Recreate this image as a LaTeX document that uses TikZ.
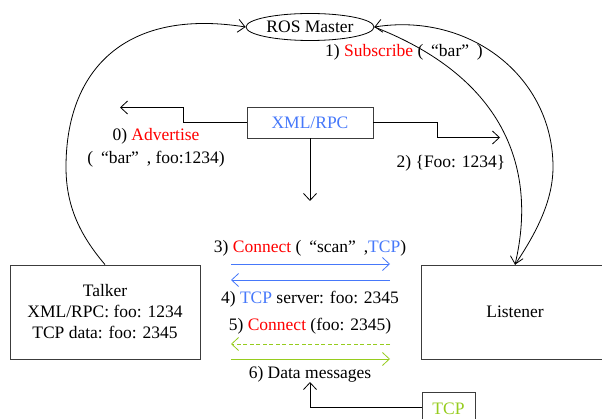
\documentclass[tikz,border=0pt]{standalone}
\usepackage{fontspec}
\setmainfont{Liberation Serif}
\usetikzlibrary{arrows.meta,shapes.geometric}
\definecolor{myblue}{RGB}{70,120,250}
\definecolor{mygreen}{RGB}{150,204,30}
\definecolor{boxgray}{RGB}{60,60,60}
\newcommand\fwq[1]{\hspace{0.45em}“#1”\hspace{0.45em}}
\begin{document}
\begin{tikzpicture}[x=1pt,y=-1pt,
  every node/.style={font=\fontsize{17.5}{21}\selectfont, inner sep=0pt},
  arr/.style={-{Straight Barb[length=7pt,width=13pt]}, line width=0.8pt},
  box/.style={draw=boxgray, line width=0.8pt, rectangle, align=center},
  lbl/.style={align=center}]
\useasboundingbox (0,0) rectangle (602,419);
% nodes
\node[draw, ellipse, line width=0.8pt, minimum width=128pt, minimum height=27pt] (master) at (310,27) {ROS Master};
\node[box, minimum width=126pt, minimum height=31pt, text=myblue] (xml) at (310,122.5) {XML/RPC};
\node[box, minimum width=190pt, minimum height=94pt] (talker) at (105,312) {Talker\\XML/RPC: foo: 1234\\TCP data: foo: 2345};
\node[box, minimum width=188pt, minimum height=94pt] (listener) at (515,312) {Listener};
\node[box, minimum width=53pt, minimum height=34pt, text=mygreen] (tcp) at (448.5,409) {TCP};
% labels
\node[lbl] (l1) at (404,52) {1) \textcolor{red}{Subscribe} (\fwq{bar})};
\node[lbl] (l0a) at (156,136) {0) \textcolor{red}{Advertise}};
\node[lbl] (l0b) at (156,159) {(\fwq{bar}, foo:1234)};
\node[lbl] (l2) at (451,163) {2) \{Foo: 1234\}};
\node[lbl] (l3) at (310,248) {3) \textcolor{red}{Connect} (\fwq{scan},\textcolor{myblue}{TCP})};
\node[lbl] (l4) at (310,299) {4) \textcolor{myblue}{TCP} server: foo: 2345};
\node[lbl] (l5) at (310,326) {5) \textcolor{red}{Connect} (foo: 2345)};
\node[lbl] (l6) at (310,374) {6) Data messages};
% coordinates for free ends
\coordinate (advEnd) at (120,107.5);
\coordinate (fooEnd) at (500,137.5);
\coordinate (downEnd) at (310,201);
\coordinate (c3a) at (231,264);
\coordinate (c3b) at (390,264);
\coordinate (c4a) at (390,280);
\coordinate (c4b) at (231,280);
\coordinate (c5a) at (390,344);
\coordinate (c5b) at (231,344);
\coordinate (c6a) at (231,359);
\coordinate (c6b) at (390,359);
\coordinate (tcpEnd) at (310,382);
% XML/RPC connectors
\draw[arr] (xml.west) -- (183,122.5) -- (183,107.5) -- (advEnd);
\draw[arr] (xml.east) -- (437,122.5) -- (437,137.5) -- (fooEnd);
\draw[arr] (xml.south) -- (downEnd);
% big curves
\draw[arr] (talker.north) .. controls (79,234) and (66,205) .. (66,167)
  .. controls (66,70) and (125,8) .. (master.west);
\draw[arr] (master.east) .. controls (515,82) and (535,180) .. (listener.north);
\draw[arr] (listener.north) .. controls (537,232) and (553,200) .. (553,167)
  .. controls (553,77) and (470,12) .. (master.east);
% middle arrows
\draw[arr, myblue] (c3a) -- (c3b);
\draw[arr, myblue] (c4a) -- (c4b);
\draw[arr, mygreen, dash pattern=on 4pt off 2.5pt] (c5a) -- (c5b);
\draw[arr, mygreen] (c6a) -- (c6b);
\draw[arr] (tcp.west |- 0,407) -- (310,407) -- (tcpEnd);
\end{tikzpicture}
\end{document}
